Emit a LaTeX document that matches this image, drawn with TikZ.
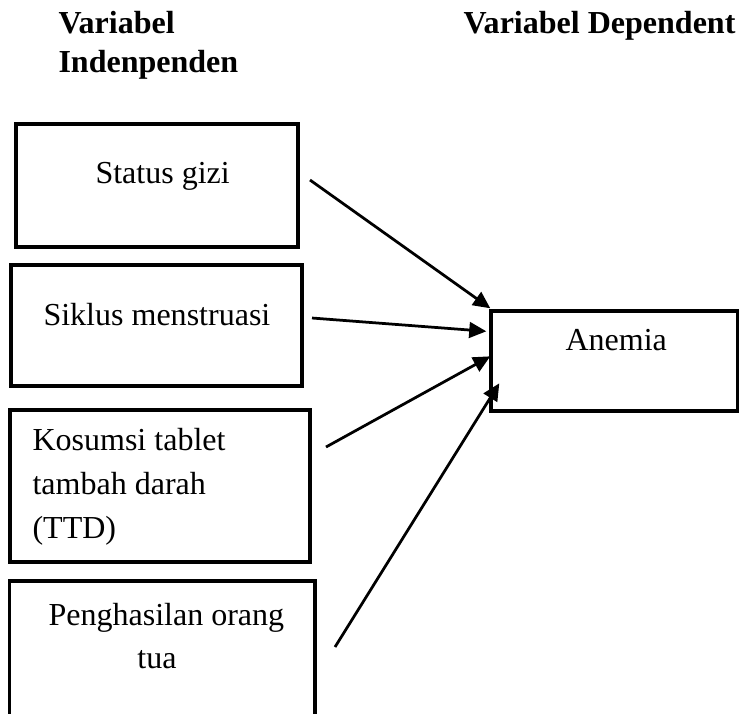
\documentclass[tikz,border=0pt]{standalone}
\usepackage{fontspec}
\setmainfont{Liberation Serif}
\usetikzlibrary{fit,arrows.meta,calc}
\begin{document}
\begin{tikzpicture}[x=0.381pt,y=-0.381pt,
  box/.style={draw,line width=1.3pt,inner sep=0pt},
  txt/.style={anchor=base west,inner sep=0pt,font=\fontsize{12.2}{14}\selectfont},
  head/.style={anchor=base west,inner sep=0pt,font=\fontsize{12.2}{14}\selectfont\bfseries},
  conn/.style={line width=1.05pt,-{Triangle[length=6.5pt,width=6pt]}}]
\useasboundingbox (0,0) rectangle (739,713);
\clip (0,0) rectangle (739,713);
% headings
\node[head] (h1) at (58,33) {Variabel};
\node[head] (h2) at (58,72) {Indenpenden};
\node[head] (h3) at (463,33) {Variabel Dependent};
% boxes
\node[box,fit={(16,124) (298,247)}] (b1) {};
\node[box,fit={(11,265) (302,386)}] (b2) {};
\node[box,fit={(10,410) (310,562)}] (b3) {};
\node[box,fit={(9.5,581) (315,740)}] (b4) {};
\node[box,fit={(491,311) (738,411)}] (an) {};
% texts
\node[txt] (t1) at (95,183) {Status gizi};
\node[txt] (t2) at (43,325) {Siklus menstruasi};
\node[txt] (t3a) at (32,450) {Kosumsi tablet};
\node[txt] (t3b) at (32,494) {tambah darah};
\node[txt] (t3c) at (32,538) {(TTD)};
\node[txt] (t4a) at (48,625) {Penghasilan orang};
\node[txt,anchor=base] (t4b) at (157,668) {tua};
\node[txt] (ta) at (565,350) {Anemia};
% connector starts
\coordinate (s1) at (310,180);
\coordinate (s2) at (312,318);
\coordinate (s3) at (326,447);
\coordinate (s4) at (335,647);
\draw[conn] (s1) -- ($(an.north west)+(1,-1)$);
\draw[conn] (s2) -- ($(an.north west)+(-3,22)$);
\draw[conn] (s3) -- ($(an.north west)+(1,47)$);
\draw[conn] (s4) -- ($(an.north west)+(10,74)$);
\end{tikzpicture}
\end{document}
